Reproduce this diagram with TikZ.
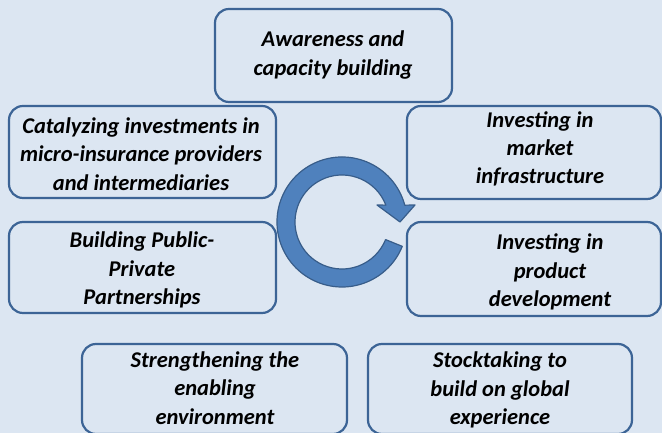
\documentclass[tikz,border=0pt]{standalone}
\usepackage{fontspec}
\setmainfont{Carlito}
\usetikzlibrary{calc}
\definecolor{bgblue}{HTML}{DCE6F2}
\definecolor{boxline}{HTML}{3C6496}
\definecolor{arrowfill}{HTML}{4F81BD}
\definecolor{arrowline}{HTML}{385D8A}

\begin{document}
\begin{tikzpicture}[x=1pt, y=1pt,
    box/.style={draw=boxline, line width=2.2pt, rounded corners=14pt, fill=bgblue},
    lbl/.style={align=center, inner sep=0pt,
        font=\fontsize{22.5}{28.3}\selectfont\bfseries\itshape}]
    \fill[bgblue] (0,0) rectangle (662,433);
    \useasboundingbox (0,0) rectangle (662,433);

    % boxes
    \node[box, minimum width=237pt, minimum height=93pt] (aware) at (333.5,377.5) {};
    \node[box, minimum width=267pt, minimum height=92pt] (catal) at (142.5,281) {};
    \node[box, minimum width=254pt, minimum height=93pt] (market) at (534,280.5) {};
    \node[box, minimum width=267pt, minimum height=91pt] (public) at (142.5,165.5) {};
    \node[box, minimum width=254pt, minimum height=94pt] (product) at (534,164) {};
    \node[box, minimum width=265pt, minimum height=90pt] (streng) at (214.5,44) {};
    \node[box, minimum width=264pt, minimum height=90pt] (stock) at (500,44) {};

    % texts
    \node[lbl] (aware-t) at (333,378) {Awareness and\\capacity building};
    \node[lbl] (catal-t) at (141,279) {Catalyzing investments in\\micro-insurance providers\\and intermediaries};
    \node[lbl] (market-t) at (540,284) {Investing in\\market\\infrastructure};
    \node[lbl] (public-t) at (142,163) {Building Public-\\Private\\Partnerships};
    \node[lbl] (product-t) at (550,161) {Investing in\\product\\development};
    \node[lbl] (streng-t) at (215,45) {Strengthening the\\enabling\\environment};
    \node[lbl] (stock-t) at (500,43) {Stocktaking to\\build on global\\experience};

    % cycle arrow
    \coordinate (ctr) at (342,211);
    \filldraw[fill=arrowfill, draw=arrowline, line width=1.2pt, line join=round]
        ($(ctr)+(-22:65)$) arc[start angle=-22, end angle=-345, radius=65]
        -- (415,228) -- (400,211) -- (377,228)
        -- ($(ctr)+(21:47)$) arc[start angle=21, end angle=338, radius=47] -- cycle;
\end{tikzpicture}
\end{document}
